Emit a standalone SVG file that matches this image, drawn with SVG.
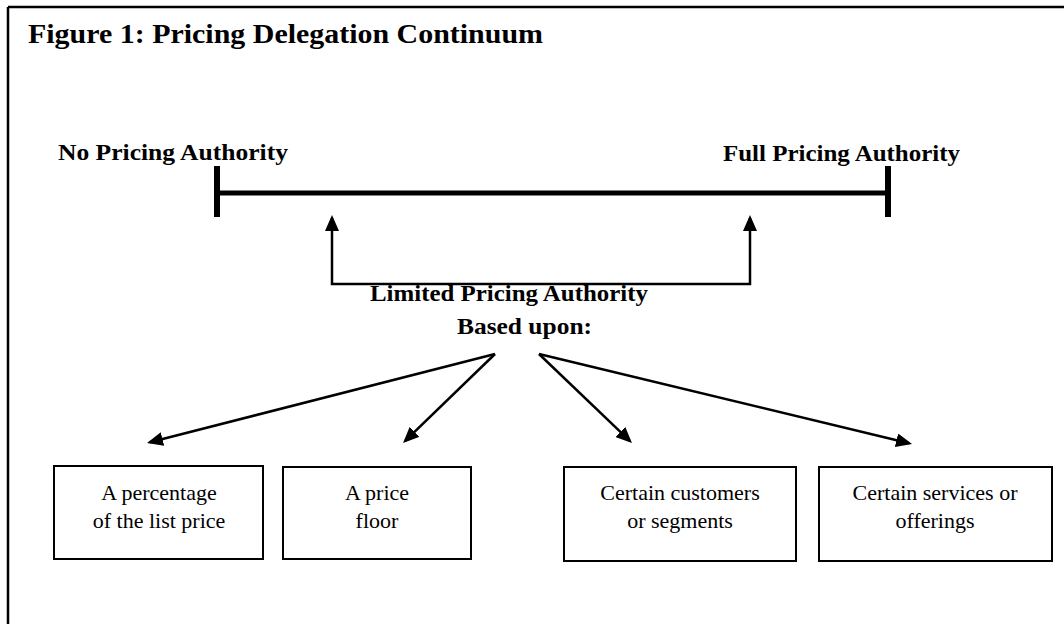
<svg xmlns="http://www.w3.org/2000/svg" width="1064" height="624" viewBox="0 0 1064 624">
  <style>
    .frame { fill: none; stroke: #000; stroke-width: 2.5; }
    .axis { fill: none; stroke: #000; stroke-width: 5; }
    .tick { fill: none; stroke: #000; stroke-width: 6; }
    .conn { fill: none; stroke: #000; stroke-width: 2.5; stroke-linejoin: miter; }
    .box { fill: #fff; stroke: #000; stroke-width: 2; }
    .title { font-family: "Liberation Serif", "DejaVu Serif", serif; font-weight: bold; font-size: 27px; fill: #000; }
    .label { font-family: "Liberation Serif", "DejaVu Serif", serif; font-weight: bold; font-size: 23px; fill: #000; }
    .body { font-family: "Liberation Serif", "DejaVu Serif", serif; font-size: 22px; fill: #000; text-anchor: middle; }
  </style>
  <defs>
    <marker id="head" markerUnits="userSpaceOnUse" viewBox="0 0 16 14" markerWidth="16" markerHeight="14" refX="13" refY="7" orient="auto-start-reverse">
      <path d="M0,0 L16,7 L0,14 z" fill="#000"/>
    </marker>
  </defs>

  <rect width="1064" height="624" fill="#fff"/>

  <!-- outer frame: top rule and left rule -->
  <path class="frame" d="M8,7 L1064,7 M8,7 L8,624"/>

  <text class="title" x="28" y="43" textLength="515" lengthAdjust="spacingAndGlyphs">Figure 1: Pricing Delegation Continuum</text>

  <!-- continuum axis -->
  <g id="continuum">
    <line class="axis" x1="217" y1="193" x2="888" y2="193"/>
    <line class="tick" x1="217" y1="166" x2="217" y2="217"/>
    <line class="tick" x1="888" y1="166" x2="888" y2="217"/>
  </g>

  <g id="no-authority">
    <text class="label" x="58" y="160" textLength="230" lengthAdjust="spacingAndGlyphs">No Pricing Authority</text>
  </g>
  <g id="full-authority">
    <text class="label" x="723" y="161" textLength="237" lengthAdjust="spacingAndGlyphs">Full Pricing Authority</text>
  </g>
  <g id="limited-authority">
    <text class="label" x="370" y="301" textLength="278" lengthAdjust="spacingAndGlyphs">Limited Pricing Authority</text>
    <text class="label" x="457" y="334" textLength="135" lengthAdjust="spacingAndGlyphs">Based upon:</text>
  </g>

  <!-- connectors -->
  <g id="connectors">
    <path class="conn" d="M332,218 L332,284 L750,284 L750,218" marker-start="url(#head)" marker-end="url(#head)"/>
    <line class="conn" x1="495" y1="354" x2="149.9" y2="442.3" marker-end="url(#head)"/>
    <line class="conn" x1="495" y1="354" x2="405.2" y2="440.9" marker-end="url(#head)"/>
    <line class="conn" x1="539" y1="354" x2="629.8" y2="440.9" marker-end="url(#head)"/>
    <line class="conn" x1="539" y1="354" x2="909.1" y2="443.3" marker-end="url(#head)"/>
  </g>

  <!-- criteria boxes -->
  <g id="box-percentage">
    <rect class="box" x="54" y="466" width="209" height="93"/>
    <text class="body" x="159" y="500">A percentage</text>
    <text class="body" x="159" y="528">of the list price</text>
  </g>
  <g id="box-floor">
    <rect class="box" x="283" y="467" width="188" height="92"/>
    <text class="body" x="377" y="500">A price</text>
    <text class="body" x="377" y="528">floor</text>
  </g>
  <g id="box-customers">
    <rect class="box" x="564" y="467" width="232" height="94"/>
    <text class="body" x="680" y="500">Certain customers</text>
    <text class="body" x="680" y="528">or segments</text>
  </g>
  <g id="box-services">
    <rect class="box" x="819" y="467" width="233" height="94"/>
    <text class="body" x="935" y="500">Certain services or</text>
    <text class="body" x="935" y="528">offerings</text>
  </g>
</svg>
